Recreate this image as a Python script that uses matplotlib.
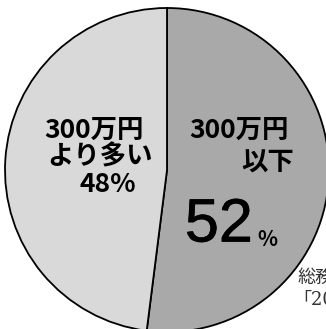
import matplotlib
matplotlib.use('Agg')
import matplotlib.pyplot as plt
import matplotlib.patheffects as pe

plt.rcParams['font.family'] = ['Noto Sans CJK JP', 'DejaVu Sans']

# data
labels = ['300万円\n以下', '300万円\nより多い']
shares = [52, 48]
colors = ['#a9a9a9', '#d9d9d9']
source_lines = ['総務省', '「2014']

fig = plt.figure(figsize=(3.26, 3.29), dpi=100)
ax = fig.add_axes([0, 0, 1, 1])

ax.pie(shares, colors=colors, startangle=90, counterclock=False,
       center=(167, 159), radius=162, frame=True,
       wedgeprops=dict(edgecolor='black', linewidth=1.3))
ax.set_xlim(0, 326)
ax.set_ylim(0, 329)
ax.set_aspect('equal')
ax.axis('off')

# right wedge (52%)
ax.text(239, 199, '300万円', fontsize=19, fontweight='bold', ha='center', va='center')
ax.text(268, 166, '以下', fontsize=19, fontweight='bold', ha='center', va='center')
ax.text(219, 103, str(shares[0]), fontsize=44, ha='center', va='center',
        family=['Liberation Sans'],
        path_effects=[pe.withStroke(linewidth=0.5, foreground='black')])
ax.text(267, 90, '%', fontsize=15, fontweight='bold', ha='center', va='center')

# left wedge (48%)
ax.text(94, 199, '300万円', fontsize=19, fontweight='bold', ha='center', va='center')
ax.text(100, 172, 'より多い', fontsize=19, fontweight='bold', ha='center', va='center')
ax.text(108, 145, '%d%%' % shares[1], fontsize=19, fontweight='bold', ha='center', va='center')

# source note (cut off at the edge, as in the original)
ax.text(297, 51, source_lines[0], fontsize=13, color='#333333', ha='left', va='center',
        family=['DejaVu Serif', 'Noto Sans CJK JP'])
ax.text(293, 29, source_lines[1], fontsize=13, color='#333333', ha='left', va='center',
        family=['DejaVu Serif', 'Noto Sans CJK JP'])

fig.savefig('out.png', dpi=100)
